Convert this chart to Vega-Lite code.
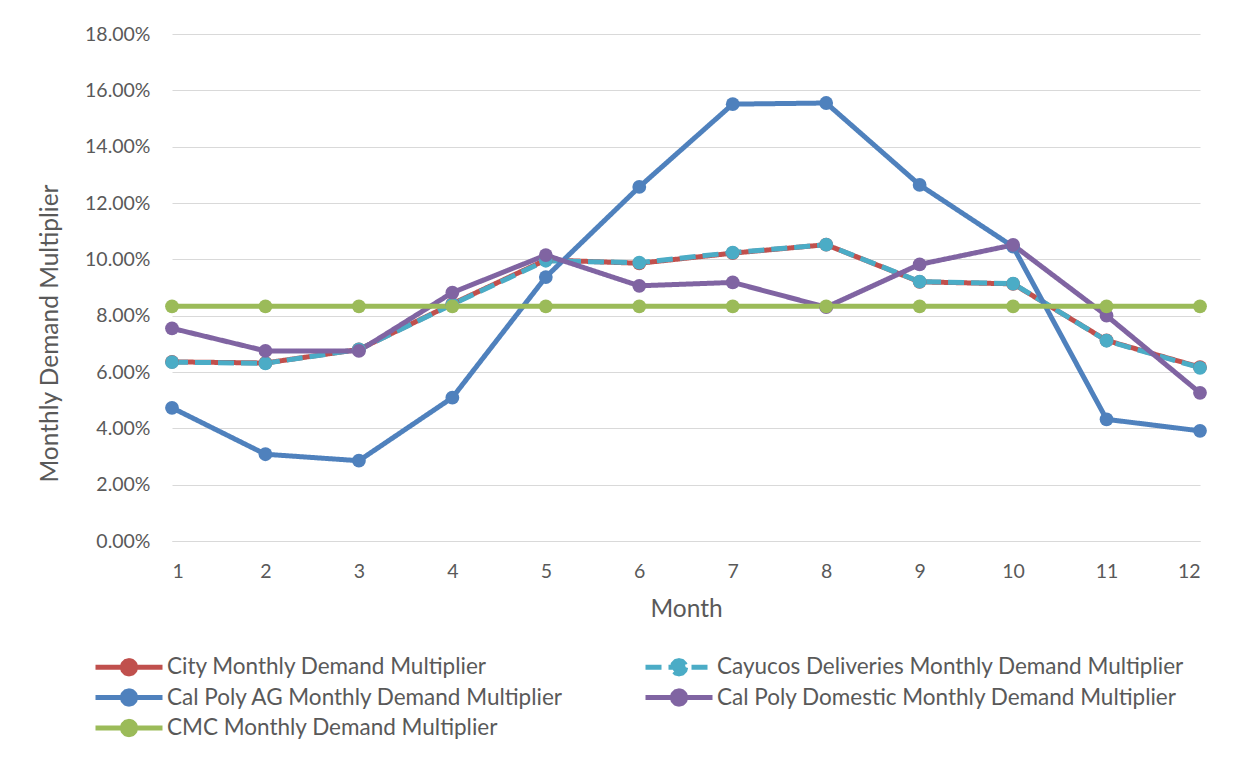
{
  "$schema": "https://vega.github.io/schema/vega-lite/v6.json",
  "width": 1028,
  "height": 507,
  "autosize": {"type": "none"},
  "padding": {"left": 172, "top": 34, "right": 41, "bottom": 227},
  "background": "white",
  "config": {
    "view": {"stroke": null},
    "font": "Lato",
    "axis": {
      "labelFont": "Lato",
      "labelFontSize": 19.5,
      "labelColor": "#595959",
      "titleFont": "Lato",
      "titleFontSize": 24.5,
      "titleFontWeight": "normal",
      "titleColor": "#595959",
      "gridColor": "#D9D9D9",
      "gridWidth": 1,
      "ticks": false,
      "domainColor": "#D9D9D9",
      "domainWidth": 1
    }
  },
  "data": {
    "values": [
      {"series": "City Monthly Demand Multiplier", "month": 1, "value": 0.0636},
      {"series": "City Monthly Demand Multiplier", "month": 2, "value": 0.0632},
      {"series": "City Monthly Demand Multiplier", "month": 3, "value": 0.0680},
      {"series": "City Monthly Demand Multiplier", "month": 4, "value": 0.0842},
      {"series": "City Monthly Demand Multiplier", "month": 5, "value": 0.0998},
      {"series": "City Monthly Demand Multiplier", "month": 6, "value": 0.0986},
      {"series": "City Monthly Demand Multiplier", "month": 7, "value": 0.1022},
      {"series": "City Monthly Demand Multiplier", "month": 8, "value": 0.1052},
      {"series": "City Monthly Demand Multiplier", "month": 9, "value": 0.0920},
      {"series": "City Monthly Demand Multiplier", "month": 10, "value": 0.0913},
      {"series": "City Monthly Demand Multiplier", "month": 11, "value": 0.0712},
      {"series": "City Monthly Demand Multiplier", "month": 12, "value": 0.0617},
      {"series": "Cayucos Deliveries Monthly Demand Multiplier", "month": 1, "value": 0.0635},
      {"series": "Cayucos Deliveries Monthly Demand Multiplier", "month": 2, "value": 0.0631},
      {"series": "Cayucos Deliveries Monthly Demand Multiplier", "month": 3, "value": 0.0680},
      {"series": "Cayucos Deliveries Monthly Demand Multiplier", "month": 4, "value": 0.0840},
      {"series": "Cayucos Deliveries Monthly Demand Multiplier", "month": 5, "value": 0.0995},
      {"series": "Cayucos Deliveries Monthly Demand Multiplier", "month": 6, "value": 0.0988},
      {"series": "Cayucos Deliveries Monthly Demand Multiplier", "month": 7, "value": 0.1024},
      {"series": "Cayucos Deliveries Monthly Demand Multiplier", "month": 8, "value": 0.1052},
      {"series": "Cayucos Deliveries Monthly Demand Multiplier", "month": 9, "value": 0.0921},
      {"series": "Cayucos Deliveries Monthly Demand Multiplier", "month": 10, "value": 0.0914},
      {"series": "Cayucos Deliveries Monthly Demand Multiplier", "month": 11, "value": 0.0711},
      {"series": "Cayucos Deliveries Monthly Demand Multiplier", "month": 12, "value": 0.0615},
      {"series": "Cal Poly AG Monthly Demand Multiplier", "month": 1, "value": 0.0473},
      {"series": "Cal Poly AG Monthly Demand Multiplier", "month": 2, "value": 0.0308},
      {"series": "Cal Poly AG Monthly Demand Multiplier", "month": 3, "value": 0.0285},
      {"series": "Cal Poly AG Monthly Demand Multiplier", "month": 4, "value": 0.0509},
      {"series": "Cal Poly AG Monthly Demand Multiplier", "month": 5, "value": 0.0937},
      {"series": "Cal Poly AG Monthly Demand Multiplier", "month": 6, "value": 0.1257},
      {"series": "Cal Poly AG Monthly Demand Multiplier", "month": 7, "value": 0.1551},
      {"series": "Cal Poly AG Monthly Demand Multiplier", "month": 8, "value": 0.1555},
      {"series": "Cal Poly AG Monthly Demand Multiplier", "month": 9, "value": 0.1264},
      {"series": "Cal Poly AG Monthly Demand Multiplier", "month": 10, "value": 0.1045},
      {"series": "Cal Poly AG Monthly Demand Multiplier", "month": 11, "value": 0.0432},
      {"series": "Cal Poly AG Monthly Demand Multiplier", "month": 12, "value": 0.0391},
      {"series": "Cal Poly Domestic Monthly Demand Multiplier", "month": 1, "value": 0.0755},
      {"series": "Cal Poly Domestic Monthly Demand Multiplier", "month": 2, "value": 0.0675},
      {"series": "Cal Poly Domestic Monthly Demand Multiplier", "month": 3, "value": 0.0675},
      {"series": "Cal Poly Domestic Monthly Demand Multiplier", "month": 4, "value": 0.0882},
      {"series": "Cal Poly Domestic Monthly Demand Multiplier", "month": 5, "value": 0.1015},
      {"series": "Cal Poly Domestic Monthly Demand Multiplier", "month": 6, "value": 0.0906},
      {"series": "Cal Poly Domestic Monthly Demand Multiplier", "month": 7, "value": 0.0918},
      {"series": "Cal Poly Domestic Monthly Demand Multiplier", "month": 8, "value": 0.0830},
      {"series": "Cal Poly Domestic Monthly Demand Multiplier", "month": 9, "value": 0.0982},
      {"series": "Cal Poly Domestic Monthly Demand Multiplier", "month": 10, "value": 0.1051},
      {"series": "Cal Poly Domestic Monthly Demand Multiplier", "month": 11, "value": 0.0800},
      {"series": "Cal Poly Domestic Monthly Demand Multiplier", "month": 12, "value": 0.0526},
      {"series": "CMC Monthly Demand Multiplier", "month": 1, "value": 0.08333},
      {"series": "CMC Monthly Demand Multiplier", "month": 2, "value": 0.08333},
      {"series": "CMC Monthly Demand Multiplier", "month": 3, "value": 0.08333},
      {"series": "CMC Monthly Demand Multiplier", "month": 4, "value": 0.08333},
      {"series": "CMC Monthly Demand Multiplier", "month": 5, "value": 0.08333},
      {"series": "CMC Monthly Demand Multiplier", "month": 6, "value": 0.08333},
      {"series": "CMC Monthly Demand Multiplier", "month": 7, "value": 0.08333},
      {"series": "CMC Monthly Demand Multiplier", "month": 8, "value": 0.08333},
      {"series": "CMC Monthly Demand Multiplier", "month": 9, "value": 0.08333},
      {"series": "CMC Monthly Demand Multiplier", "month": 10, "value": 0.08333},
      {"series": "CMC Monthly Demand Multiplier", "month": 11, "value": 0.08333},
      {"series": "CMC Monthly Demand Multiplier", "month": 12, "value": 0.08333}
    ]
  },
  "mark": {
    "type": "line",
    "strokeWidth": 5,
    "strokeJoin": "round",
    "point": {"filled": true, "size": 190, "opacity": 1}
  },
  "encoding": {
    "x": {
      "field": "month",
      "type": "quantitative",
      "scale": {"domain": [1, 12], "nice": false, "zero": false},
      "axis": {
        "values": [1, 2, 3, 4, 5, 6, 7, 8, 9, 10, 11, 12],
        "title": "Month",
        "grid": false,
        "labelPadding": 21,
        "titleY": 68,
        "titleBaseline": "middle"
      }
    },
    "y": {
      "field": "value",
      "type": "quantitative",
      "scale": {"domain": [0, 0.18], "nice": false},
      "axis": {
        "format": ".2%",
        "values": [0, 0.02, 0.04, 0.06, 0.08, 0.1, 0.12, 0.14, 0.16, 0.18],
        "title": "Monthly Demand Multiplier",
        "domain": false,
        "labelPadding": 22,
        "titleX": -122,
        "titleY": 299,
        "titleAlign": "center",
        "titleBaseline": "middle",
        "titleAngle": -90
      }
    },
    "color": {
      "field": "series",
      "type": "nominal",
      "scale": {
        "domain": ["City Monthly Demand Multiplier", "Cayucos Deliveries Monthly Demand Multiplier", "Cal Poly AG Monthly Demand Multiplier", "Cal Poly Domestic Monthly Demand Multiplier", "CMC Monthly Demand Multiplier"],
        "range": ["#C0504D", "#4BACC6", "#4F81BD", "#8064A2", "#9BBB59"]
      },
      "legend": {
        "title": null,
        "orient": "none",
        "direction": "horizontal",
        "legendX": -58,
        "legendY": 618,
        "columns": 2,
        "columnPadding": 79,
        "rowPadding": 3.5,
        "symbolType": "M-2.68,0H2.68M0.536,0L0.464,0.268L0.268,0.464L0,0.536L-0.268,0.464L-0.464,0.268L-0.536,0L-0.464,-0.268L-0.268,-0.464L0,-0.536L0.268,-0.464L0.464,-0.268Z",
        "symbolSize": 625,
        "symbolStrokeWidth": 5,
        "labelFont": "Lato",
        "labelFontSize": 22.5,
        "labelColor": "#595959",
        "labelOffset": 23,
        "labelLimit": 600,
        "encode": {"symbols": {"update": {"fill": {"scale": "color", "field": "value"}, "fillOpacity": {"value": 1}, "strokeJoin": {"value": "round"}}}}
      }
    },
    "strokeDash": {
      "field": "series",
      "type": "nominal",
      "scale": {
        "domain": ["City Monthly Demand Multiplier", "Cayucos Deliveries Monthly Demand Multiplier", "Cal Poly AG Monthly Demand Multiplier", "Cal Poly Domestic Monthly Demand Multiplier", "CMC Monthly Demand Multiplier"],
        "range": [[1, 0], [16, 7], [1, 0], [1, 0], [1, 0]]
      },
      "legend": {
        "title": null,
        "orient": "none",
        "direction": "horizontal",
        "legendX": -58,
        "legendY": 618,
        "columns": 2,
        "columnPadding": 79,
        "rowPadding": 3.5,
        "symbolType": "M-2.68,0H2.68M0.536,0L0.464,0.268L0.268,0.464L0,0.536L-0.268,0.464L-0.464,0.268L-0.536,0L-0.464,-0.268L-0.268,-0.464L0,-0.536L0.268,-0.464L0.464,-0.268Z",
        "symbolSize": 625,
        "symbolStrokeWidth": 5,
        "labelFont": "Lato",
        "labelFontSize": 22.5,
        "labelColor": "#595959",
        "labelOffset": 23,
        "labelLimit": 600,
        "encode": {"symbols": {"update": {"fill": {"scale": "color", "field": "value"}, "fillOpacity": {"value": 1}, "strokeJoin": {"value": "round"}}}}
      }
    }
  }
}
